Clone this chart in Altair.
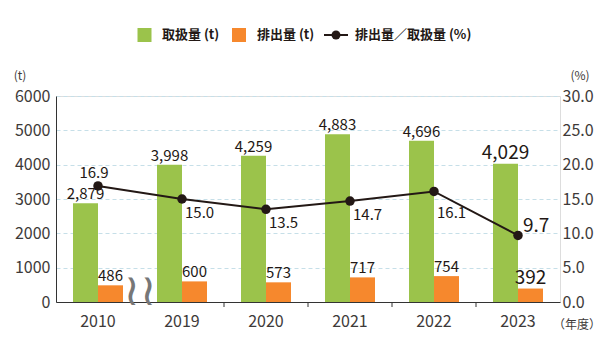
import altair as alt
import pandas as pd

# ---- data ----
years = ["2010", "2019", "2020", "2021", "2022", "2023"]
handled = [2879, 3998, 4259, 4883, 4696, 4029]      # 取扱量 (t)
emitted = [486, 600, 573, 717, 754, 392]            # 排出量 (t)
ratio = [16.9, 15.0, 13.5, 14.7, 16.1, 9.7]         # 排出量／取扱量 (%)
series = ["取扱量 (t)", "排出量 (t)"]
line_name = "排出量／取扱量 (%)"
left_ticks = [0, 1000, 2000, 3000, 4000, 5000, 6000]
right_ticks = [0, 5, 10, 15, 20, 25, 30]
boundary_years = years[2:]

GREEN = "#9bc34b"
ORANGE = "#f6882d"
DARK = "#231815"
AXIS_TXT = "#3e3a39"
GRID = "#c6dfe8"
FONT = "Noto Sans CJK JP"

bars_df = pd.DataFrame({
    "year": years * 2,
    "series": [series[0]] * len(years) + [series[1]] * len(years),
    "value": handled + emitted,
})
line_df = pd.DataFrame({"year": years, "ratio": ratio})
bound_df = pd.DataFrame({"year": boundary_years})
one = pd.DataFrame({"k": [0]})

x_axis = alt.Axis(title=None, labelAngle=0, ticks=False, domainColor="#333",
                  domainWidth=1, labelFontSize=16, labelColor=AXIS_TXT,
                  labelFont=FONT, labelPadding=11, grid=False)
x_scale = alt.Scale(domain=years, paddingInner=0, paddingOuter=0)


def X(**kw):
    return alt.X("year:N", scale=x_scale, axis=x_axis, **kw)


y_left = alt.Y("value:Q", scale=alt.Scale(domain=[0, 6000], nice=False),
               axis=alt.Axis(title=None, values=left_ticks, format="d", ticks=False,
                             tickSize=0, labelPadding=6, domainColor="#333",
                             gridColor=GRID, gridDash=[4, 3], grid=True,
                             labelFontSize=16, labelColor=AXIS_TXT, labelFont=FONT))
x_off = alt.XOffset("series:N", sort=series,
                    scale=alt.Scale(domain=series, paddingInner=0, paddingOuter=0.68))

bars = alt.Chart(bars_df).mark_bar().encode(
    x=X(), xOffset=x_off, y=y_left,
    color=alt.Color("series:N", scale=alt.Scale(domain=series, range=[GREEN, ORANGE]),
                    legend=None),
)
bar_labels = alt.Chart(bars_df).mark_text(baseline="bottom", dy=-1, font=FONT,
                                          color=DARK).encode(
    x=X(), xOffset=x_off, y=y_left,
    text=alt.Text("value:Q", format=","),
    size=alt.condition(alt.datum.year == "2023", alt.value(19), alt.value(15)),
)
ticks = alt.Chart(bound_df).mark_rule(color="#333", strokeWidth=1).encode(
    x=X(bandPosition=0), y=alt.value(206), y2=alt.value(211))


def ann(text, x, y, size=13, align="center", weight="normal", font=FONT,
        color=DARK, angle=0):
    return alt.Chart(one).mark_text(align=align, baseline="middle", fontSize=size,
                                    fontWeight=weight, font=font, color=color,
                                    angle=angle).encode(
        x=alt.value(x), y=alt.value(y), text=alt.value(text))


breaks = [ann("≀≀", 84, 196, size=44, font="DejaVu Sans", color="#777")]
texts = [ann("(t)", -36, -20, size=12, color=AXIS_TXT),
         ann("(%)", 524, -20, size=12, color=AXIS_TXT),
         ann("（年度）", 521, 229, size=12, color=AXIS_TXT)]

# legend
LY = -61
legend = [
    alt.Chart(one).mark_square(size=196, color=GREEN, opacity=1).encode(
        x=alt.value(88.5), y=alt.value(LY)),
    ann(series[0], 106, LY, size=13, align="left", weight="bold"),
    alt.Chart(one).mark_square(size=196, color=ORANGE, opacity=1).encode(
        x=alt.value(183), y=alt.value(LY)),
    ann(series[1], 201, LY, size=13, align="left", weight="bold"),
    alt.Chart(one).mark_rule(color=DARK, strokeWidth=2).encode(
        x=alt.value(268), x2=alt.value(292), y=alt.value(LY)),
    alt.Chart(one).mark_circle(size=80, color=DARK, opacity=1).encode(
        x=alt.value(280), y=alt.value(LY)),
    ann(line_name, 299, LY, size=13, align="left", weight="bold"),
]

left = alt.layer(bars, bar_labels, ticks, *breaks, *texts, *legend)

y_right = alt.Y("ratio:Q", scale=alt.Scale(domain=[0, 30], nice=False),
                axis=alt.Axis(title=None, orient="right", values=right_ticks,
                              format=".1f", ticks=False, tickSize=0, domain=False,
                              grid=False, labelPadding=2, labelFontSize=16,
                              labelColor=AXIS_TXT, labelFont=FONT))

base_line = alt.Chart(line_df).encode(x=X(), y=y_right)
line = base_line.mark_line(color=DARK, strokeWidth=2)
points = base_line.mark_circle(size=90, color=DARK, opacity=1)
lbl = base_line.encode(text=alt.Text("ratio:Q", format=".1f"))
lab_first = lbl.transform_filter(alt.datum.year == years[0]).mark_text(
    align="center", baseline="middle", dx=-4, dy=-13, fontSize=15, font=FONT, color=DARK)
lab_mid = lbl.transform_filter(alt.FieldOneOfPredicate(field="year", oneOf=years[1:4])).mark_text(
    align="left", baseline="middle", dx=3, dy=14, fontSize=15, font=FONT, color=DARK)
lab_2022 = lbl.transform_filter(alt.datum.year == years[4]).mark_text(
    align="left", baseline="middle", dx=3, dy=22, fontSize=15, font=FONT, color=DARK)
lab_last = lbl.transform_filter(alt.datum.year == years[5]).mark_text(
    align="left", baseline="middle", dx=5, dy=-9, fontSize=19, font=FONT, color=DARK)

right = alt.layer(line, points, lab_first, lab_mid, lab_2022, lab_last)

chart = alt.layer(left, right).resolve_scale(y="independent").properties(
    width=504, height=206,
    padding={"left": 56, "top": 96, "right": 50, "bottom": 51},
    autosize=alt.AutoSizeParams(type="none"),
).configure_view(stroke=None).configure(background="white")

chart.save("out.html", embed_options={"renderer": "svg", "actions": False})
